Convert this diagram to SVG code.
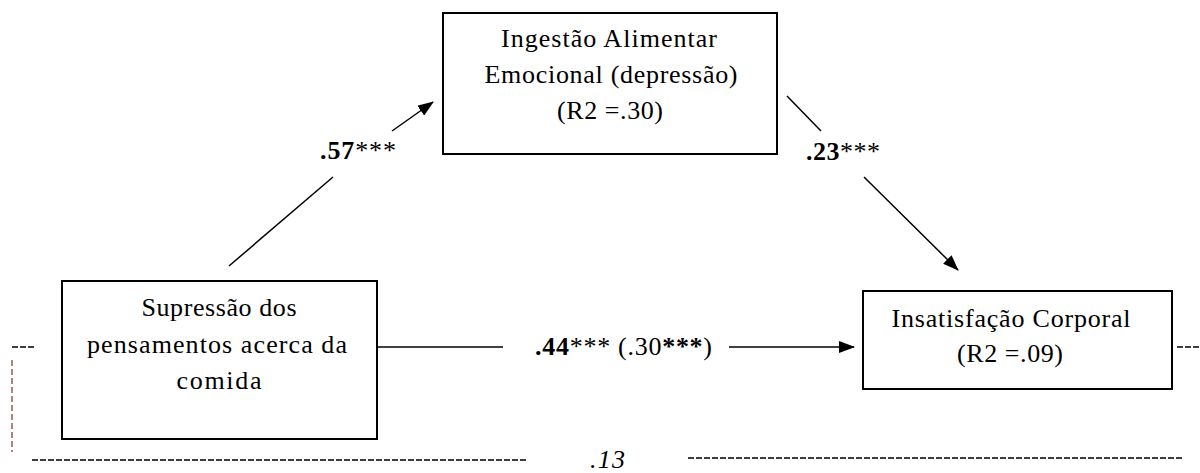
<svg xmlns="http://www.w3.org/2000/svg" width="1200" height="473" viewBox="0 0 1200 473">
<style>
.box{fill:#fff;stroke:#000;stroke-width:2}
.t{font-family:"Liberation Serif","Times New Roman",serif;font-size:26px;fill:#000;text-anchor:middle}
.lbl{font-family:"Liberation Serif","Times New Roman",serif;font-size:26px;fill:#000}
.b{font-weight:bold}
.ln{stroke:#000;stroke-width:1.5;fill:none}
.dash{stroke:#000;stroke-width:1.5;stroke-dasharray:6,2;fill:none}
</style>
<defs>
<marker id="ah" markerWidth="16" markerHeight="12" refX="15" refY="6" orient="auto" markerUnits="userSpaceOnUse">
<path d="M0,0 L16,6 L0,12 Z" fill="#000"/>
</marker>
</defs>
<rect width="1200" height="473" fill="#fff"/>
<g id="connectors">
<line class="ln" x1="229" y1="266" x2="333" y2="177"/>
<line class="ln" x1="392" y1="131" x2="433" y2="102" marker-end="url(#ah)"/>
<line class="ln" x1="787" y1="96" x2="821" y2="131"/>
<line class="ln" x1="864" y1="177" x2="958" y2="270" marker-end="url(#ah)"/>
<line class="ln" x1="377" y1="347" x2="503" y2="347"/>
<line class="ln" x1="729" y1="347" x2="854" y2="347" marker-end="url(#ah)"/>
<text class="lbl" x="320" y="159" textLength="76" lengthAdjust="spacing"><tspan class="b">.57</tspan>***</text>
<text class="lbl" x="806" y="160" textLength="74" lengthAdjust="spacing"><tspan class="b">.23</tspan>***</text>
<text class="lbl" x="535" y="355" textLength="177" lengthAdjust="spacing"><tspan class="b">.44</tspan>*** (.30<tspan class="b">***</tspan>)</text>
<line class="dash" x1="12" y1="347" x2="36" y2="347"/>
<line x1="12" y1="360" x2="12" y2="452" stroke="#a0574c" stroke-width="1.5" stroke-dasharray="6,3"/>
<line class="dash" x1="32" y1="460" x2="526" y2="460"/>
<text class="lbl" x="590" y="468" font-style="italic" textLength="35" lengthAdjust="spacing">.13</text>
<line class="dash" x1="688" y1="458" x2="1182" y2="458"/>
<line class="dash" x1="1177" y1="347" x2="1200" y2="347"/>
</g>
<g id="node-ingestao">
<rect class="box" x="443" y="13" width="334" height="141"/>
<text class="t" x="609" y="47" textLength="216" lengthAdjust="spacing">Ingestão Alimentar</text>
<text class="t" x="611" y="83" textLength="253" lengthAdjust="spacing">Emocional (depressão)</text>
<text class="t" x="610" y="119" textLength="106" lengthAdjust="spacing">(R2 =.30)</text>
</g>
<g id="node-supressao">
<rect class="box" x="62" y="281" width="315" height="158"/>
<text class="t" x="219" y="316" textLength="155" lengthAdjust="spacing">Supressão dos</text>
<text class="t" x="217" y="353" textLength="260" lengthAdjust="spacing">pensamentos acerca da</text>
<text class="t" x="219" y="389" textLength="85" lengthAdjust="spacing">comida</text>
</g>
<g id="node-insatisfacao">
<rect class="box" x="863" y="291" width="309" height="98"/>
<text class="t" x="1011" y="327" textLength="239" lengthAdjust="spacing">Insatisfação Corporal</text>
<text class="t" x="1010" y="362" textLength="106" lengthAdjust="spacing">(R2 =.09)</text>
</g>
</svg>
